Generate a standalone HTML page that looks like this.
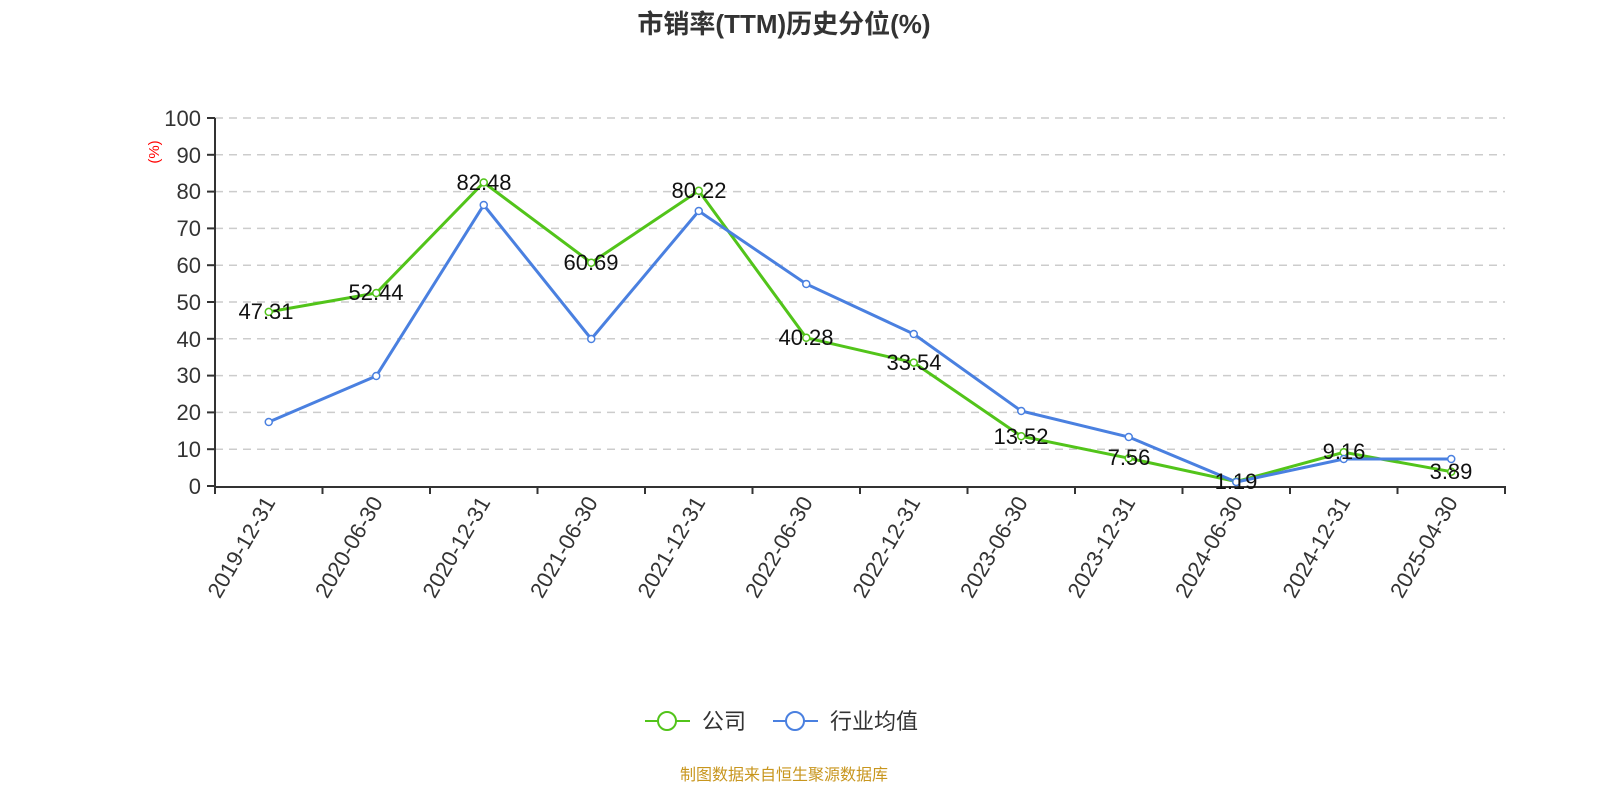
<!DOCTYPE html>
<html><head><meta charset="utf-8"><style>body{margin:0;background:#fff}svg{display:block}</style></head><body>
<svg width="1600" height="800" xmlns="http://www.w3.org/2000/svg" font-family="'Liberation Sans','Noto Sans CJK SC',sans-serif">
<text x="784" y="33" text-anchor="middle" font-size="26" font-weight="bold" fill="#333">市销率(TTM)历史分位(%)</text>
<g stroke="#ccc" stroke-dasharray="8,6" stroke-width="1.5">
<line x1="215" x2="1505" y1="118" y2="118"/><line x1="215" x2="1505" y1="154.8" y2="154.8"/><line x1="215" x2="1505" y1="191.6" y2="191.6"/><line x1="215" x2="1505" y1="228.4" y2="228.4"/><line x1="215" x2="1505" y1="265.2" y2="265.2"/><line x1="215" x2="1505" y1="302" y2="302"/><line x1="215" x2="1505" y1="338.8" y2="338.8"/><line x1="215" x2="1505" y1="375.6" y2="375.6"/><line x1="215" x2="1505" y1="412.4" y2="412.4"/><line x1="215" x2="1505" y1="449.2" y2="449.2"/>
</g>
<g stroke="#333" stroke-width="2">
<line x1="215" x2="215" y1="118" y2="487"/><line x1="214" x2="1506" y1="487" y2="487"/>
<line x1="207" x2="215" y1="118" y2="118"/><line x1="207" x2="215" y1="154.8" y2="154.8"/><line x1="207" x2="215" y1="191.6" y2="191.6"/><line x1="207" x2="215" y1="228.4" y2="228.4"/><line x1="207" x2="215" y1="265.2" y2="265.2"/><line x1="207" x2="215" y1="302" y2="302"/><line x1="207" x2="215" y1="338.8" y2="338.8"/><line x1="207" x2="215" y1="375.6" y2="375.6"/><line x1="207" x2="215" y1="412.4" y2="412.4"/><line x1="207" x2="215" y1="449.2" y2="449.2"/><line x1="207" x2="215" y1="486" y2="486"/>
<line x1="215" x2="215" y1="487" y2="494"/><line x1="322.5" x2="322.5" y1="487" y2="494"/><line x1="430" x2="430" y1="487" y2="494"/><line x1="537.5" x2="537.5" y1="487" y2="494"/><line x1="645" x2="645" y1="487" y2="494"/><line x1="752.5" x2="752.5" y1="487" y2="494"/><line x1="860" x2="860" y1="487" y2="494"/><line x1="967.5" x2="967.5" y1="487" y2="494"/><line x1="1075" x2="1075" y1="487" y2="494"/><line x1="1182.5" x2="1182.5" y1="487" y2="494"/><line x1="1290" x2="1290" y1="487" y2="494"/><line x1="1397.5" x2="1397.5" y1="487" y2="494"/><line x1="1505" x2="1505" y1="487" y2="494"/>
</g>
<g font-size="22" fill="#333" text-anchor="end">
<text x="201" y="126">100</text><text x="201" y="163">90</text><text x="201" y="199">80</text><text x="201" y="236">70</text><text x="201" y="273">60</text><text x="201" y="310">50</text><text x="201" y="347">40</text><text x="201" y="383">30</text><text x="201" y="420">20</text><text x="201" y="457">10</text><text x="201" y="494">0</text>
</g>
<text transform="translate(159,152) rotate(-90)" text-anchor="middle" font-size="15" fill="red">(%)</text>
<g font-size="22" fill="#333" text-anchor="end">
<text transform="translate(276,502) rotate(-60)">2019-12-31</text>
<text transform="translate(383.5,502) rotate(-60)">2020-06-30</text>
<text transform="translate(491,502) rotate(-60)">2020-12-31</text>
<text transform="translate(598.5,502) rotate(-60)">2021-06-30</text>
<text transform="translate(706,502) rotate(-60)">2021-12-31</text>
<text transform="translate(813.5,502) rotate(-60)">2022-06-30</text>
<text transform="translate(921,502) rotate(-60)">2022-12-31</text>
<text transform="translate(1028.5,502) rotate(-60)">2023-06-30</text>
<text transform="translate(1136,502) rotate(-60)">2023-12-31</text>
<text transform="translate(1243.5,502) rotate(-60)">2024-06-30</text>
<text transform="translate(1351,502) rotate(-60)">2024-12-31</text>
<text transform="translate(1458.5,502) rotate(-60)">2025-04-30</text>
</g>
<polyline fill="none" stroke="#52c41a" stroke-width="3" points="268.75,311.9 376.25,293 483.75,182.5 591.25,262.7 698.75,190.8 806.25,337.8 913.75,362.6 1021.25,436.2 1128.75,458.2 1236.25,481.6 1343.75,452.3 1451.25,471.7"/>
<polyline fill="none" stroke="#4a80e0" stroke-width="3" points="268.75,422 376.25,376 483.75,205 591.25,339 698.75,211 806.25,284 913.75,334 1021.25,411 1128.75,437 1236.25,482 1343.75,459 1451.25,459"/>
<g fill="#fff" stroke="#52c41a" stroke-width="1.5">
<circle cx="268.75" cy="311.9" r="3.5"/><circle cx="376.25" cy="293" r="3.5"/><circle cx="483.75" cy="182.5" r="3.5"/><circle cx="591.25" cy="262.7" r="3.5"/><circle cx="698.75" cy="190.8" r="3.5"/><circle cx="806.25" cy="337.8" r="3.5"/><circle cx="913.75" cy="362.6" r="3.5"/><circle cx="1021.25" cy="436.2" r="3.5"/><circle cx="1128.75" cy="458.2" r="3.5"/><circle cx="1236.25" cy="481.6" r="3.5"/><circle cx="1343.75" cy="452.3" r="3.5"/><circle cx="1451.25" cy="471.7" r="3.5"/>
</g>
<g fill="#fff" stroke="#4a80e0" stroke-width="1.5">
<circle cx="268.75" cy="422" r="3.5"/><circle cx="376.25" cy="376" r="3.5"/><circle cx="483.75" cy="205" r="3.5"/><circle cx="591.25" cy="339" r="3.5"/><circle cx="698.75" cy="211" r="3.5"/><circle cx="806.25" cy="284" r="3.5"/><circle cx="913.75" cy="334" r="3.5"/><circle cx="1021.25" cy="411" r="3.5"/><circle cx="1128.75" cy="437" r="3.5"/><circle cx="1236.25" cy="482" r="3.5"/><circle cx="1343.75" cy="459" r="3.5"/><circle cx="1451.25" cy="459" r="3.5"/>
</g>
<g font-size="22" fill="#111" text-anchor="middle">
<text x="266" y="319">47.31</text><text x="376" y="300">52.44</text><text x="484" y="190">82.48</text><text x="591" y="270">60.69</text><text x="699" y="198">80.22</text><text x="806" y="345">40.28</text><text x="914" y="370">33.54</text><text x="1021" y="444">13.52</text><text x="1129" y="465">7.56</text><text x="1236" y="489">1.19</text><text x="1344" y="459">9.16</text><text x="1451" y="479">3.89</text>
</g>
<line x1="645" x2="690" y1="721" y2="721" stroke="#52c41a" stroke-width="2"/><circle cx="667" cy="721" r="9" fill="#fff" stroke="#52c41a" stroke-width="2"/>
<text x="702" y="729" font-size="22" fill="#333">公司</text>
<line x1="773" x2="818" y1="721" y2="721" stroke="#4a80e0" stroke-width="2"/><circle cx="795" cy="721" r="9" fill="#fff" stroke="#4a80e0" stroke-width="2"/>
<text x="830" y="729" font-size="22" fill="#333">行业均值</text>
<text x="784" y="780" text-anchor="middle" font-size="16" fill="#c8961e">制图数据来自恒生聚源数据库</text>
</svg>
</body></html>
